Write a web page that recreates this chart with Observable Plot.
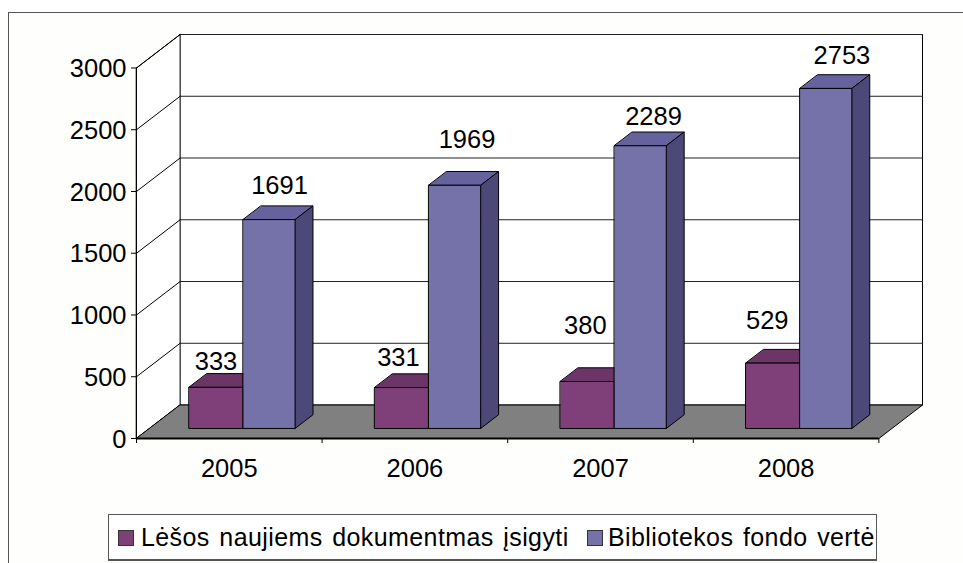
<!DOCTYPE html>
<html lang="lt">
<head>
<meta charset="utf-8">
<script src="https://cdn.jsdelivr.net/npm/d3@7"></script>
<script src="https://cdn.jsdelivr.net/npm/@observablehq/plot@0.6"></script>
<style>
  html, body { margin: 0; padding: 0; background: #fff; }
  body { position: relative; width: 963px; height: 563px; overflow: hidden; font-family: "Liberation Sans", Arial, sans-serif; }
  #frame { position: absolute; left: 8px; top: 12px; right: 0; bottom: 0; background: #fefefc; border-top: 1px solid #555; border-left: 1px solid #555; }
  #chart { position: absolute; left: 0; top: 0; }
  #chart svg { display: block; background: transparent; }
  #legend { position: absolute; left: 108px; top: 514px; width: 767px; height: 44px; background: #fff; border: 1px solid #555; border-bottom-width: 2px; color: #000; font-size: 25px; }
  #legend .sw { position: absolute; top: 15px; width: 14px; height: 14px; border: 1px solid #333; }
  #legend .tx { position: absolute; top: 8px; white-space: nowrap; line-height: 28px; letter-spacing: 0.4px; word-spacing: 2.3px; }
</style>
</head>
<body>
<div id="frame"></div>
<div id="chart"></div>
<div id="legend"></div>
<script>
const years = ["2005", "2006", "2007", "2008"];
const lesos = [333, 331, 380, 529];
const fondas = [1691, 1969, 2289, 2753];
const seriesNames = ["Lėšos naujiems dokumentmas įsigyti", "Bibliotekos fondo vertė"];
const yTicks = [0, 500, 1000, 1500, 2000, 2500, 3000];
const lesosLift = [290, 325, 535, 426];
const fondasLift = [358, 452, 318, 348];
const lesosNudge = [0.005, -0.012, -0.005, -0.025];
const fondasNudge = [0.06, 0.07, 0.075, 0.09];

// Oblique projection: depth 0 = front of the floor, depth 1 = back wall.
const depthX = 0.235, depthY = 271;
const barDepthFront = 0.30, barDepthBack = 0.71;
const barEdges = [0.2131, 0.5045, 0.784]; // purple left, shared edge, blue right
const at = (x, y, d) => ({ px: x + d * depthX, py: y + d * depthY });
const poly = (id, fill, pts) => pts.map(([x, y, d]) => ({ id, fill, ...at(x, y, d) }));

const cols = {
  purple: { front: "#7f4079", top: "#6b3568", side: "#552a52" },
  blue: { front: "#7571a9", top: "#66629e", side: "#4c4877" }
};

function box(id, x0, x1, v, c) {
  const a = barDepthFront, b = barDepthBack;
  return [
    poly(id + "-top", c.top, [[x0, v, a], [x1, v, a], [x1, v, b], [x0, v, b]]),
    poly(id + "-side", c.side, [[x1, 0, a], [x1, 0, b], [x1, v, b], [x1, v, a]]),
    poly(id + "-front", c.front, [[x0, 0, a], [x1, 0, a], [x1, v, a], [x0, v, a]])
  ].flat();
}

const nCat = years.length;
const walls = [
  poly("back", "#fff", [[0, 0, 1], [nCat, 0, 1], [nCat, 3000, 1], [0, 3000, 1]]),
  poly("left", "#fff", [[0, 0, 0], [0, 0, 1], [0, 3000, 1], [0, 3000, 0]])
].flat();
const floor = poly("floor", "#808080", [[0, 0, 0], [nCat, 0, 0], [nCat, 0, 1], [0, 0, 1]]);
const bars = years.flatMap((yr, i) => [
  ...box("p" + yr, i + barEdges[0], i + barEdges[1], lesos[i], cols.purple),
  ...box("b" + yr, i + barEdges[1], i + barEdges[2], fondas[i], cols.blue)
]);
const backGrid = yTicks.filter(t => t > 0).flatMap(t => [
  { id: "g" + t, ...at(0, t, 1) }, { id: "g" + t, ...at(nCat, t, 1) }
]);
const sideGrid = yTicks.flatMap(t => [
  { id: "s" + t, ...at(0, t, 0) }, { id: "s" + t, ...at(0, t, 1) }
]);

const labelBase = [0.2126, 0.5];
const labelHalf = 0.14375;
const labels = [
  ...years.map((yr, i) => ({
    label: String(lesos[i]),
    x: i + labelBase[0] + 0.285 * depthX + labelHalf + lesosNudge[i],
    y: lesos[i] + lesosLift[i]
  })),
  ...years.map((yr, i) => ({
    label: String(fondas[i]),
    x: i + labelBase[1] + 0.285 * depthX + labelHalf + fondasNudge[i],
    y: fondas[i] + fondasLift[i]
  }))
];

const polyMark = (data) => Plot.line(data, {
  x: "px", y: "py", z: "id", fill: "fill", stroke: "#000", strokeWidth: 1,
  curve: "linear-closed", strokeLinejoin: "miter"
});

const plot = Plot.plot({
  width: 963,
  height: 505,
  marginLeft: 136,
  marginRight: 41,
  marginTop: 34,
  marginBottom: 67,
  style: { background: "transparent", fontFamily: "'Liberation Sans', Arial, sans-serif", color: "#000" },
  x: { type: "linear", domain: [0, nCat + depthX], axis: null },
  y: { type: "linear", domain: [0, 3000 + depthY], axis: null },
  marks: [
    polyMark(walls),
    Plot.line(backGrid, { x: "px", y: "py", z: "id", stroke: "#222", strokeWidth: 1 }),
    Plot.line(sideGrid, { x: "px", y: "py", z: "id", stroke: "#000", strokeWidth: 1 }),
    polyMark(floor),
    polyMark(bars),
    Plot.ruleX([0], { y1: 0, y2: 3000, stroke: "#000", strokeWidth: 1 }),
    Plot.ruleY([0], { x1: 0, x2: nCat, stroke: "#000", strokeWidth: 2 }),
    Plot.axisY({ ticks: yTicks, tickFormat: () => "", tickSize: 5, label: null, anchor: "left", stroke: "#000" }),
    Plot.axisY({ ticks: yTicks, tickFormat: d => String(d), tickSize: 0, tickPadding: 10, dy: 1, fontSize: 25.5, label: null, anchor: "left" }),
    Plot.axisX({ ticks: d3.range(nCat + 1), tickFormat: () => "", tickSize: 5, label: null, anchor: "bottom", stroke: "#000" }),
    Plot.axisX({ ticks: years.map((_, i) => i + 0.5), tickFormat: d => years[Math.floor(d)], tickSize: 0, tickPadding: 20, fontSize: 25.5, label: null, anchor: "bottom" }),
    Plot.text(labels, { x: "x", y: "y", text: "label", fontSize: 25.5, fill: "#000" })
  ]
});
document.getElementById("chart").appendChild(plot);

const legend = document.getElementById("legend");
const swatchColors = [cols.purple.front, cols.blue.front];
const swatchLeft = [9, 478], textLeft = [32, 499];
seriesNames.forEach((name, i) => {
  const sw = document.createElement("span");
  sw.className = "sw";
  sw.style.left = swatchLeft[i] + "px";
  sw.style.background = swatchColors[i];
  const tx = document.createElement("span");
  tx.className = "tx";
  tx.style.left = textLeft[i] + "px";
  tx.textContent = name;
  legend.append(sw, tx);
});
</script>
</body>
</html>
